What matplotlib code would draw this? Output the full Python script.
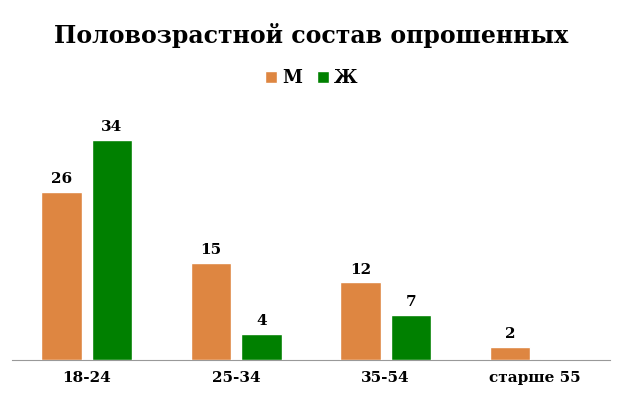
import matplotlib.pyplot as plt
import numpy as np

# data
categories = ['18-24', '25-34', '35-54', 'старше 55']
men = [26, 15, 12, 2]
women = [34, 4, 7, 0]

orange = '#DE8641'
green = '#008000'

plt.rcParams['font.family'] = ['DejaVu Serif']

fig = plt.figure(figsize=(6.23, 3.93), dpi=100)
ax = fig.add_axes([12 / 623, 33 / 393, 598 / 623, 260 / 393])

x = np.arange(len(categories))
w = 0.272
off = 0.168
b1 = ax.bar(x - off, men, w, color=orange, edgecolor='white', linewidth=1, label='М')
b2 = ax.bar(x + off, women, w, color=green, edgecolor='white', linewidth=1, label='Ж')

# value labels (skip zero)
for bars, vals in [(b1, men), (b2, women)]:
    for r, v in zip(bars, vals):
        if v == 0:
            continue
        ax.text(r.get_x() + r.get_width() / 2, v + 0.9, str(v), ha='center', va='bottom',
                fontsize=11, fontweight='bold')

ax.set_xlim(-0.5, len(categories) - 0.5)
ax.set_ylim(0, 40.2)
ax.set_xticks(x)
ax.set_xticklabels(categories, fontsize=11, fontweight='bold')
ax.tick_params(axis='x', length=0, pad=8)
ax.set_yticks([])
for s in ['top', 'right', 'left']:
    ax.spines[s].set_visible(False)
ax.spines['bottom'].set_color('#999999')
ax.spines['bottom'].set_zorder(0)

fig.text(0.5, 1 - 35 / 393, 'Половозрастной состав опрошенных', ha='center', va='center',
         fontsize=17, fontweight='bold')

leg = fig.legend(loc='center', bbox_to_anchor=(0.5, 1 - 78 / 393), ncol=2, frameon=False,
                 handlelength=0.65, handleheight=0.65, handletextpad=0.3, columnspacing=0.8,
                 prop={'size': 13, 'weight': 'bold'})

fig.savefig('out.png', dpi=100)
